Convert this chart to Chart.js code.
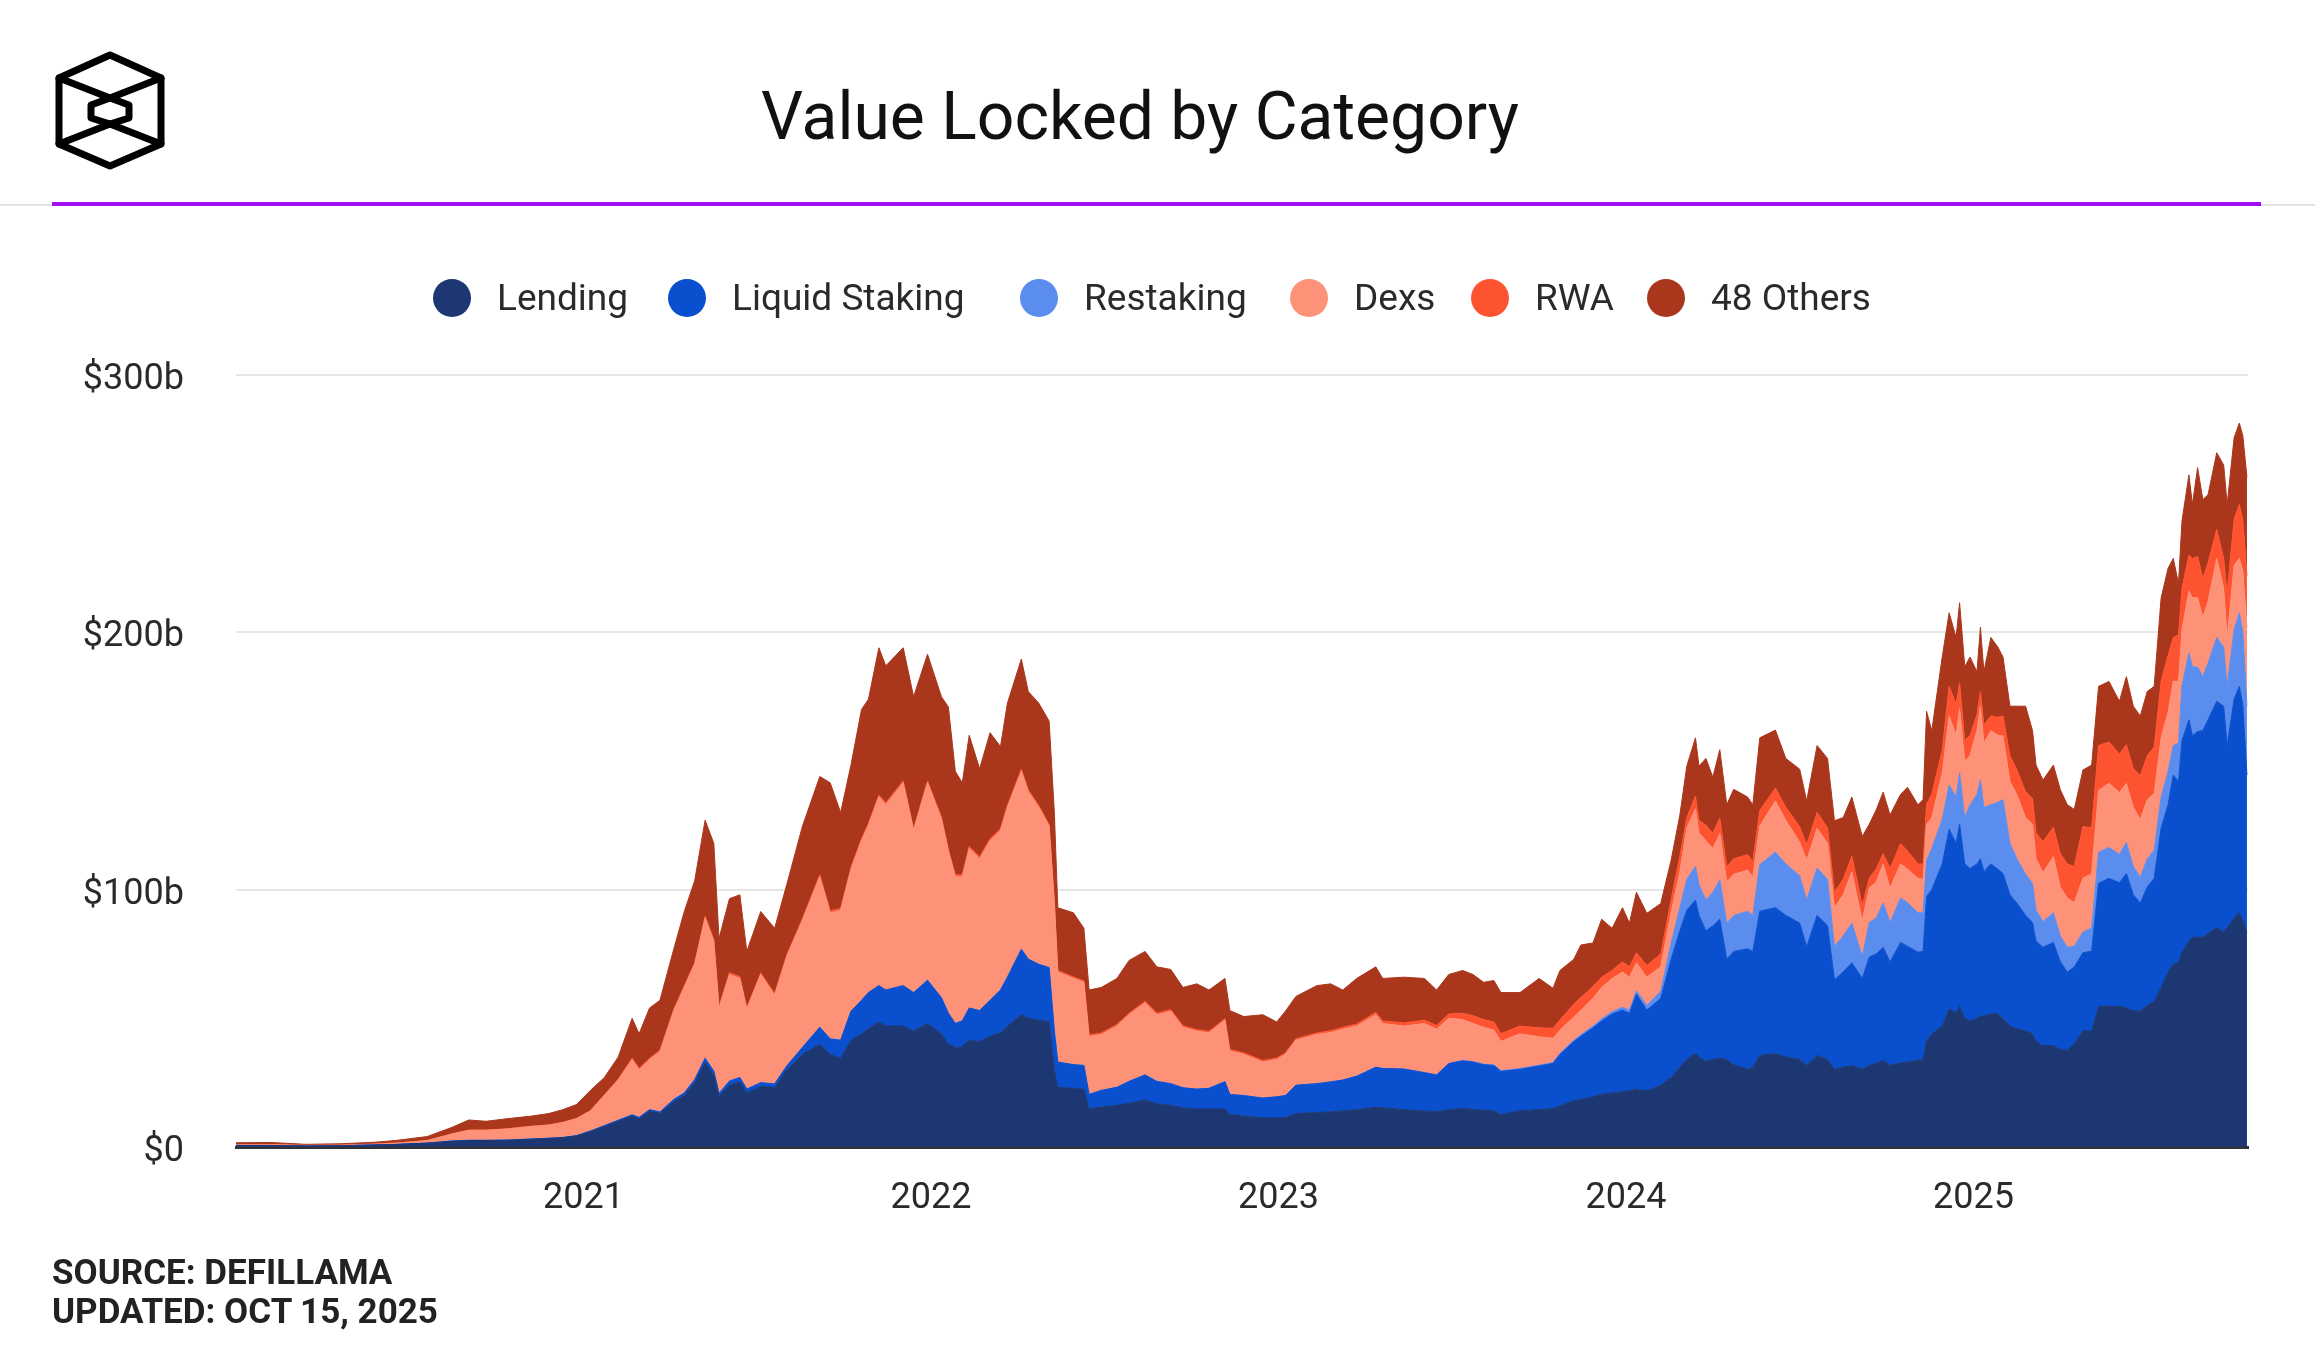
<!DOCTYPE html>
<html>
<head>
<meta charset="utf-8">
<script src="https://cdn.jsdelivr.net/npm/chart.js@4.4.1/dist/chart.umd.min.js"></script>
<style>
html,body{margin:0;padding:0;background:#fff;}
body{width:2315px;height:1350px;position:relative;overflow:hidden;font-family:Roboto,"Noto Sans",sans-serif;color:#222;}
#c{position:absolute;left:0;top:0;}
.abs{position:absolute;}
#title{left:0;width:2280px;top:84px;text-align:center;font-size:66px;line-height:66px;color:#111;white-space:nowrap;}
#rule{left:0;top:204px;width:2315px;height:2px;background:#e3e3e3;}
#purple{left:52px;top:202px;width:2209px;height:4px;background:#a20ef2;}
.leg{position:absolute;top:279px;height:38px;display:flex;align-items:center;white-space:nowrap;}
.leg .dot{width:38px;height:38px;border-radius:50%;flex:none;}
.leg .txt{margin-left:26px;font-size:37px;line-height:38px;color:#2a2a2a;}
.foot{left:52px;font-size:35px;line-height:35px;font-weight:700;color:#222;white-space:nowrap;}
</style>
</head>
<body>
<canvas id="c" width="2315" height="1350"></canvas>

<svg class="abs" style="left:0;top:0" width="220" height="220" viewBox="0 0 220 220">
  <g fill="none" stroke="#000" stroke-width="7" stroke-linejoin="round" stroke-linecap="round">
    <polygon points="110,55 161,78 161,144 110,166 59,144 59,78"/>
    <polygon points="110,98 129,105 129,118 110,124 91,118 91,105"/>
    <line x1="59" y1="78" x2="110" y2="98"/>
    <line x1="161" y1="78" x2="110" y2="98"/>
    <line x1="59" y1="144" x2="110" y2="124"/>
    <line x1="161" y1="144" x2="110" y2="124"/>
  </g>
</svg>

<div id="title" class="abs">Value Locked by Category</div>
<div id="rule" class="abs"></div>
<div id="purple" class="abs"></div>
<div id="legend"></div>

<div class="abs foot" style="top:1255px">SOURCE: DEFILLAMA</div>
<div class="abs foot" style="top:1294px">UPDATED: OCT 15, 2025</div>

<script>
// ---- Data (values in $ billions), x positions as decimal years ----
const years = [
  2020.00,2020.10,2020.20,2020.30,2020.40,2020.46,2020.55,2020.62,2020.67,2020.72,2020.78,2020.85,2020.90,2020.94,2020.98,
  2021.02,2021.06,2021.10,2021.14,2021.16,2021.19,2021.22,2021.26,2021.29,2021.32,2021.35,2021.375,2021.39,2021.42,2021.45,2021.47,2021.51,2021.55,2021.585,2021.63,2021.68,2021.71,2021.74,2021.77,2021.80,2021.82,2021.85,2021.87,2021.92,2021.95,2021.99,
  2022.03,2022.05,2022.07,2022.09,2022.11,2022.14,2022.17,2022.20,2022.22,2022.26,2022.28,2022.31,2022.34,2022.355,2022.365,2022.41,2022.44,2022.455,2022.49,2022.535,2022.57,2022.616,2022.65,2022.69,2022.725,2022.765,2022.80,2022.846,2022.86,2022.90,2022.955,2022.995,
  2023.02,2023.05,2023.11,2023.15,2023.185,2023.225,2023.28,2023.30,2023.36,2023.42,2023.455,2023.49,2023.53,2023.56,2023.59,2023.62,2023.64,2023.695,2023.75,2023.79,2023.81,2023.85,2023.87,2023.905,2023.93,2023.96,2023.99,
  2024.01,2024.03,2024.06,2024.10,2024.13,2024.155,2024.175,2024.20,2024.21,2024.23,2024.25,2024.27,2024.29,2024.31,2024.35,2024.365,2024.385,2024.43,2024.46,2024.50,2024.52,2024.55,2024.58,2024.60,2024.625,2024.65,2024.68,2024.70,2024.72,2024.74,2024.76,2024.79,2024.81,2024.84,2024.855,2024.865,2024.88,2024.91,2024.93,2024.95,2024.96,2024.975,2024.99,
  2025.01,2025.02,2025.03,2025.05,2025.07,2025.085,2025.105,2025.125,2025.15,2025.17,2025.18,2025.20,2025.23,2025.25,2025.27,2025.29,2025.315,2025.34,2025.36,2025.39,2025.42,2025.44,2025.46,2025.48,2025.50,2025.52,2025.54,2025.56,2025.575,2025.59,2025.60,2025.62,2025.63,2025.645,2025.66,2025.675,2025.70,2025.72,2025.73,2025.75,2025.765,2025.775,2025.787
];

const lending = [
  0.6,0.6,0.4,0.5,0.8,1.0,1.5,2.2,2.5,2.5,2.6,3.0,3.3,3.6,4.3,
  6.0,8.0,10.0,12.0,11.0,14.0,13.0,17.6,20.0,25.0,33.0,28.0,19.7,24.0,25.4,21.0,23.5,23.2,30.0,36.0,40.0,36.0,34.5,41.5,44.0,46.0,48.6,47.0,47.0,45.0,48.0,
  44.0,40.0,38.7,39.0,41.5,41.0,43.0,44.4,47.0,51.4,50.0,49.3,48.6,30.0,23.2,22.8,22.5,14.8,15.5,16.2,17.0,18.3,16.8,16.2,15.2,14.8,14.8,14.8,12.7,12.0,11.3,11.3,
  11.5,13.0,13.4,13.7,14.0,14.5,15.5,15.3,14.5,14.0,13.7,14.5,15.0,14.5,14.3,14.1,12.6,14.1,14.5,14.9,16.0,18.0,18.5,19.5,20.5,21.0,21.5,
  21.8,22.5,21.8,24.0,27.0,31.0,34.0,36.3,35.0,33.3,34.0,34.5,34.0,32.0,30.2,31.0,35.6,36.3,35.0,34.0,31.7,35.6,34.0,30.2,31.0,31.7,30.2,31.7,32.5,33.7,31.7,32.7,33.0,33.7,34.0,41.3,44.0,47.0,53.7,52.0,54.7,50.0,49.0,
  50.0,50.9,51.0,51.8,51.8,50.0,47.0,46.0,45.1,44.0,41.0,39.4,39.4,38.0,37.5,40.0,45.1,45.1,54.7,54.7,54.7,54.0,53.0,52.8,55.0,56.6,62.0,68.0,71.0,72.0,75.7,80.0,81.5,81.5,81.5,83.0,85.3,83.4,85.3,89.0,91.0,88.0,83.4
];

const liquidStaking = [
  0,0,0,0,0,0,0,0.1,0.1,0.1,0.1,0.1,0.1,0.1,0.1,
  0.2,0.3,0.4,0.5,0.5,0.5,0.6,0.9,1.0,1.2,1.5,1.5,1.1,1.6,1.6,1.5,1.5,1.3,1.5,2.7,6.5,6.0,7.0,11.3,13.0,14.0,14.1,14.0,15.7,15.0,16.8,
  14.0,12.0,9.3,10.0,12.5,12.0,14.0,16.6,19.0,25.4,23.0,21.7,21.1,15.0,9.8,9.2,9.2,5.6,6.5,7.0,8.5,9.7,8.7,8.4,7.8,7.7,8.0,10.6,7.7,8.0,7.7,8.2,
  8.5,11.0,11.2,11.6,12.0,13.0,15.5,15.2,15.8,14.9,14.3,17.9,18.5,18.5,17.7,17.6,16.8,16.1,17.0,17.6,20.0,23.0,24.5,26.8,28.5,30.7,31.7,
  30.2,36.9,31.4,33.8,46.0,53.0,58.0,59.7,55.0,50.7,52.0,54.0,39.0,44.0,46.8,45.0,56.0,56.7,55.0,53.0,46.1,54.4,52.0,34.8,37.0,39.9,35.3,42.1,42.5,43.9,40.2,46.8,45.0,42.0,42.0,56.0,56.0,63.0,69.8,66.0,70.7,60.0,59.2,
  60.0,61.1,56.0,58.2,56.2,56.3,51.0,48.8,44.9,43.2,39.0,38.2,40.1,34.0,30.5,30.0,30.4,31.0,47.8,49.7,48.0,52.3,45.0,42.0,46.0,47.8,62.0,65.0,73.5,70.0,82.3,86.0,78.3,80.0,80.3,83.0,87.9,87.9,70.7,85.0,88.0,84.0,61.1
];

const restaking = [
  0,0,0,0,0,0,0,0,0,0,0,0,0,0,0,
  0,0,0,0,0,0,0,0,0,0,0,0,0,0,0,0,0,0,0,0,0,0,0,0,0,0,0,0,0,0,0,
  0,0,0,0,0,0,0,0,0,0,0,0,0,0,0,0,0,0,0,0,0,0,0,0,0,0,0,0,0,0,0,0,
  0,0,0,0,0,0,0,0,0,0,0,0.05,0.1,0.2,0.2,0.2,0.2,0.3,0.3,0.3,0.4,0.5,0.6,0.7,0.8,0.9,1.1,
  1.2,1.4,1.8,2.7,6.3,9.0,12.0,13.0,12.0,12.0,13.0,15.3,14.0,14.0,14.6,14.0,18.1,21.6,20.0,18.4,18.2,18.4,18.0,13.0,14.0,15.4,8.5,13.4,14.0,17.2,15.3,17.2,17.0,15.3,15.0,14.0,16.0,17.3,17.2,18.0,20.0,18.0,24.8,
  27.0,30.6,25.0,23.0,26.0,28.7,20.0,17.2,16.0,15.3,12.0,10.0,11.5,10.0,9.6,8.0,8.0,9.0,12.0,12.0,11.0,12.0,11.0,10.0,11.0,11.0,12.0,13.0,11.5,15.0,21.0,26.0,26.8,25.0,21.0,22.0,24.8,23.0,23.0,27.0,28.6,28.0,26.8
];

const dexs = [
  0.3,0.3,0.2,0.2,0.3,0.5,1.0,2.7,3.9,3.9,4.3,4.9,5.1,5.8,6.6,
  7.8,11.7,15.6,21.5,18.5,19.5,23.4,34.5,41.0,44.8,54.5,50.5,33.2,41.4,38.5,31.0,42.0,34.5,42.5,49.3,58.5,49.0,50.5,55.2,62.0,65.0,73.3,72.0,78.8,63.0,76.7,
  69.5,63.0,57.0,56.0,62.0,59.0,62.0,62.0,66.0,69.2,65.0,61.0,54.9,50.0,35.0,33.5,32.3,22.6,21.7,23.8,25.9,28.0,25.9,28.2,23.5,22.5,21.6,23.9,16.9,16.0,14.0,14.5,
  16.0,17.5,19.1,19.2,19.8,19.5,20.4,17.5,16.7,19.1,17.8,17.6,15.9,14.8,14.3,13.6,11.4,13.5,11.0,9.5,9.0,9.0,9.4,10.8,12.2,12.9,13.7,
  12.8,10.8,11.0,9.5,12.0,14.0,20.0,22.4,20.0,23.0,17.0,18.0,16.0,16.0,16.0,15.0,15.0,19.9,17.0,13.0,15.5,15.4,14.0,15.0,16.0,19.9,14.0,13.4,14.0,15.2,13.4,13.3,13.0,13.4,13.0,14.0,12.0,18.0,26.8,24.0,25.0,22.0,19.0,
  25.0,28.7,25.0,28.8,26.0,24.8,24.0,24.9,22.0,22.9,20.0,19.0,21.9,19.0,19.1,17.0,21.0,21.0,24.0,25.0,24.0,23.0,23.0,22.5,23.0,22.0,23.0,23.0,25.0,24.0,22.0,24.0,26.8,27.0,22.9,24.0,30.7,22.9,19.0,25.0,21.1,24.0,30.7
];

const rwa = [
  0.05,0.05,0.05,0.05,0.05,0.05,0.05,0.05,0.1,0.1,0.1,0.1,0.1,0.1,0.1,
  0.2,0.3,0.4,0.5,0.5,0.5,0.6,0.6,0.7,0.7,0.7,0.7,0.7,0.7,0.7,0.7,0.7,0.7,0.7,0.8,0.8,0.8,0.8,0.8,0.8,0.8,0.8,0.8,0.8,0.8,0.8,
  0.8,0.8,0.8,0.8,0.8,0.8,0.8,0.8,0.8,0.8,0.8,0.8,0.8,0.7,0.6,0.6,0.6,0.6,0.6,0.6,0.6,0.6,0.6,0.6,0.6,0.6,0.6,0.6,0.6,0.6,0.6,0.6,
  0.6,0.6,0.6,0.7,0.7,0.8,1.0,1.0,1.2,1.3,1.4,1.6,2.5,3.0,3.0,3.1,3.0,3.0,3.5,3.8,4.0,5.0,5.0,4.6,4.0,3.1,4.0,
  4.0,3.9,4.5,5.0,5.0,6.0,4.0,5.0,5.0,6.0,6.0,6.0,6.0,6.0,6.0,6.0,6.0,5.0,5.0,6.0,6.0,6.2,6.0,6.0,6.0,6.1,6.0,3.8,5.0,4.0,7.6,7.8,7.0,5.6,6.0,8.0,9.0,9.0,11.5,12.0,10.0,8.0,8.0,
  6.0,5.7,7.0,5.7,7.0,7.7,10.0,9.6,10.0,10.0,10.0,12.0,11.4,13.0,13.3,14.0,20.0,18.0,17.5,16.0,15.0,15.0,15.0,17.0,17.0,18.0,22.0,22.0,17.0,18.0,16.0,14.0,15.3,16.0,15.3,15.0,11.3,11.5,17.3,18.0,21.0,20.0,20.0
];

const others = [
  0.7,0.8,0.4,0.5,0.7,1.0,1.5,2.5,3.9,3.4,3.9,3.9,4.4,4.9,5.4,
  7.8,6.7,8.6,15.5,13.5,19.5,19.4,23.4,28.8,31.8,37.3,37.3,26.3,28.8,31.8,21.8,23.8,25.3,27.3,35.8,38.2,49.7,37.2,39.8,50.2,48.2,57.2,53.2,51.7,51.2,49.2,
  46.7,55.2,40.2,35.7,43.2,34.2,41.2,31.8,39.7,42.8,38.2,39.7,40.1,34.3,24.4,24.9,20.4,17.4,17.7,17.9,20.5,19.4,18.0,15.6,14.9,17.8,16.0,15.6,15.1,14.1,17.8,14.0,
  16.2,16.4,18.4,18.2,14.5,17.7,17.6,16.5,17.8,16.2,13.8,15.4,16.6,16.0,14.5,16.1,16.0,13.0,19.2,15.6,19.2,17.5,20.5,16.9,22.5,16.4,21.0,
  17.0,23.5,20.3,19.6,15.2,16.0,20.0,22.6,21.0,26.0,21.7,26.6,24.0,27.0,22.4,22.0,28.3,22.5,19.0,22.4,17.0,26.0,27.0,27.8,24.0,23.0,26.7,21.0,23.0,23.9,20.8,19.2,24.8,23.0,25.0,36.0,24.8,36.1,28.6,26.0,31.1,28.6,30.4,
  16.7,25.0,20.7,30.5,27.3,22.9,19.3,24.8,33.3,26.4,26.4,24.0,24.1,24.8,23.0,22.2,22.0,24.3,23.0,23.5,20.5,26.5,24.3,23.2,25.0,23.6,32.4,33.9,30.7,20.0,26.3,31.2,21.0,34.5,30.6,26.5,29.8,36.3,34.4,31.6,31.6,32.5,38.2
];

const seriesNames = ['Lending','Liquid Staking','Restaking','Dexs','RWA','48 Others'];
const yearTicks = [2021, 2022, 2023, 2024, 2025];
const yTickValues = [0, 100, 200, 300];
const yTickLabels = ['$0', '$100b', '$200b', '$300b'];

// ---- Styles ----
const seriesColors = ['#1c3771','#0a4fce','#5b8def','#fd9279','#fe5330','#aa361c'];
const legendCenters = [452, 687, 1039, 1309, 1490, 1666];

// HTML legend
const legendEl = document.getElementById('legend');
seriesNames.forEach((n, i) => {
  const d = document.createElement('div');
  d.className = 'leg';
  d.style.left = (legendCenters[i] - 19) + 'px';
  d.innerHTML = '<span class="dot" style="background:' + seriesColors[i] + '"></span><span class="txt">' + n + '</span>';
  legendEl.appendChild(d);
});

const seriesValues = [lending, liquidStaking, restaking, dexs, rwa, others];
const datasets = seriesNames.map((name, i) => ({
  label: name,
  data: seriesValues[i],
  backgroundColor: seriesColors[i],
  borderColor: seriesColors[i],
  borderWidth: 1,
  pointRadius: 0,
  pointHoverRadius: 0,
  tension: 0,
  fill: i === 0 ? 'origin' : '-1'
}));

const axisFont = { family: 'Roboto', size: 36 };

new Chart(document.getElementById('c').getContext('2d'), {
  type: 'line',
  data: { labels: years, datasets },
  options: {
    responsive: false,
    animation: false,
    devicePixelRatio: 1,
    layout: { padding: { left: 0, right: 67, top: 375, bottom: 113 } },
    plugins: { legend: { display: false }, tooltip: { enabled: false }, title: { display: false } },
    scales: {
      x: {
        type: 'linear',
        min: 2020,
        max: 2025.79,
        afterBuildTicks: s => { s.ticks = yearTicks.map(v => ({ value: v })); },
        afterFit: s => { s.height = 90; },
        grid: { display: false, drawTicks: false },
        border: { display: true, color: '#333333', width: 3 },
        ticks: {
          autoSkip: false, maxRotation: 0, padding: 30,
          color: '#2a2a2a', font: axisFont,
          callback: v => String(v)
        }
      },
      y: {
        type: 'linear',
        stacked: true,
        min: 0,
        max: 300,
        afterBuildTicks: s => { s.ticks = yTickValues.map(v => ({ value: v })); },
        afterFit: s => { s.width = 236; },
        grid: {
          drawTicks: false,
          lineWidth: 2,
          color: c => (c.tick && c.tick.value === 0) ? 'rgba(0,0,0,0)' : '#e6e6e6'
        },
        border: { display: false },
        ticks: {
          padding: 52, labelOffset: 5,
          color: '#2a2a2a', font: axisFont,
          callback: v => yTickLabels[yTickValues.indexOf(v)]
        }
      }
    }
  }
});
</script>
</body>
</html>
